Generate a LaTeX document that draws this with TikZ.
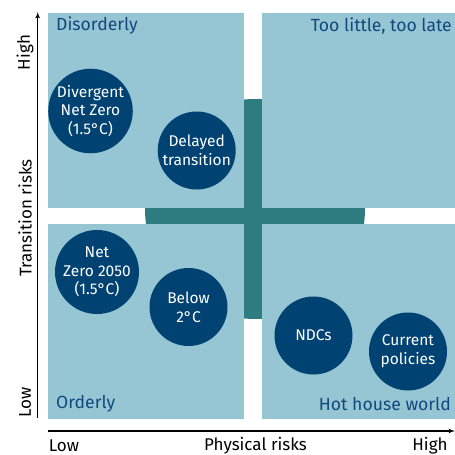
\documentclass[tikz,border=0pt]{standalone}
\usepackage{fontspec}
\setmainfont{Fira Sans}
\usetikzlibrary{arrows, positioning}
\definecolor{quadfill}{HTML}{96C5D4}
\definecolor{crossfill}{HTML}{2E7B80}
\definecolor{scenfill}{HTML}{004272}
\definecolor{quadtext}{HTML}{11497D}
\tikzstyle{quadrant} = [fill=quadfill, draw=none, rectangle, inner sep=0, anchor=north west]
\tikzstyle{scenario} = [fill=scenfill, circle, minimum size=78pt, inner sep=0, text=white, align=center, font=\fontsize{15.5}{18.7}\selectfont]
\tikzstyle{qlabel} = [text=quadtext, inner sep=0, font=\fontsize{17.6}{20}\selectfont]
\tikzstyle{axislabel} = [inner sep=0, font=\fontsize{17}{19}\selectfont]
\tikzstyle{axis} = [->, line width=1.2pt]

\begin{document}
\begin{tikzpicture}[x=1pt, y=-1pt, >=latex']
\useasboundingbox (0,0) rectangle (455,455);
% teal disc behind the four boxes
\fill[crossfill] (255,209) circle [radius=110pt];

\node[quadrant, minimum width=195.3pt, minimum height=194.7pt] (disorderbox) at (48,13) {};
\node[quadrant, minimum width=193.3pt, minimum height=194.7pt] (latebox) at (261.7,13) {};
\node[quadrant, minimum width=195.3pt, minimum height=195pt] (orderbox) at (48,223.3) {};
\node[quadrant, minimum width=193.3pt, minimum height=195pt] (hotbox) at (261.7,223.3) {};

\node[qlabel, anchor=west] (disorderly) at (56,26) {Disorderly};
\node[qlabel, anchor=east] (toolate) at (452,26) {Too little, too late};
\node[qlabel, anchor=west] (orderly) at (56,404) {Orderly};
\node[qlabel, anchor=east] (hothouse) at (451,404) {Hot house world};

\node[scenario] (divergent) at (90.5,111) {Divergent\\Net Zero\\(1.5°C)};
\node[scenario] (delayed) at (196.7,150.5) {Delayed\\transition};
\node[scenario] (netzero) at (97,272) {Net\\Zero 2050\\(1.5°C)};
\node[scenario] (below) at (188.5,307) {Below\\2°C};
\node[scenario] (ndcs) at (313.5,335.5) {NDCs};
\node[scenario] (current) at (408,351.5) {Current\\policies};

% axes
\coordinate (ybot) at (37.7,418.3);
\coordinate (ytop) at (37.7,12);
\coordinate (xleft) at (48,431);
\coordinate (xright) at (455,431);
\draw[axis] (ybot) -- (ytop);
\draw[axis] (xleft) -- (xright);

\node[axislabel, rotate=90] (yhigh) at (25,52.5) {High};
\node[axislabel, rotate=90] (ylow) at (25,402) {Low};
\node[axislabel, rotate=90] (ytitle) at (25,218) {Transition risks};
\node[axislabel] (xlow) at (64,446) {Low};
\node[axislabel] (xtitle) at (255.5,446) {Physical risks};
\node[axislabel] (xhigh) at (430,446) {High};
\end{tikzpicture}
\end{document}
